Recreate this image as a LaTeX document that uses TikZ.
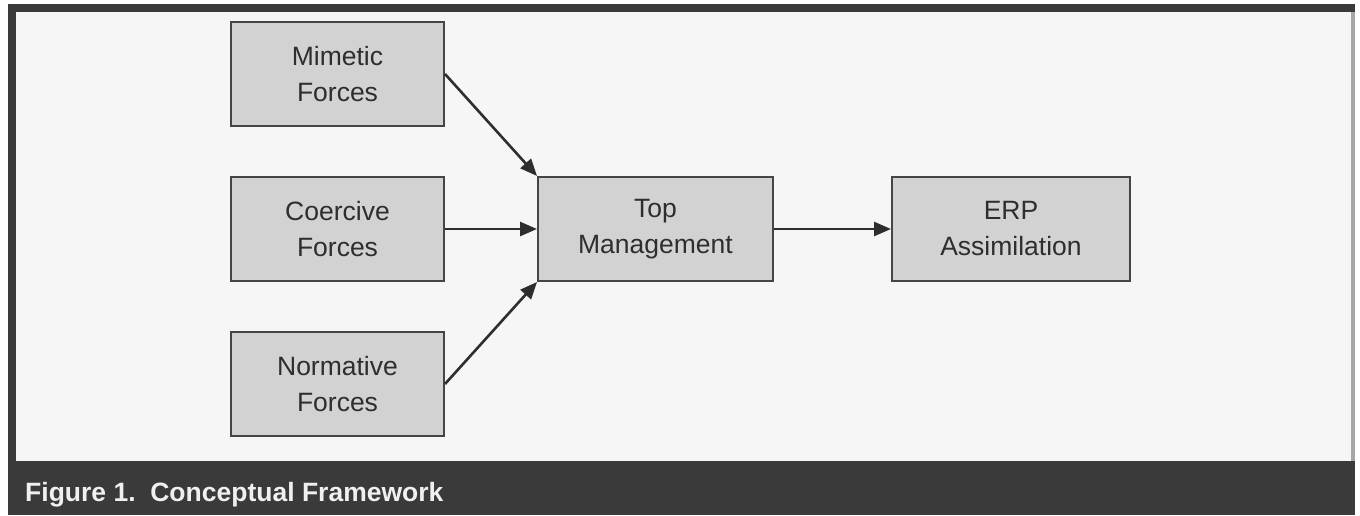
\documentclass[tikz,border=0pt]{standalone}
\usepackage{fontspec}
\setmainfont{Liberation Sans}
\usetikzlibrary{arrows.meta}
\definecolor{framedark}{HTML}{3A3A3A}
\definecolor{innerbg}{HTML}{F6F6F6}
\definecolor{boxfill}{HTML}{D2D2D2}
\definecolor{boxline}{HTML}{454545}
\definecolor{txt}{HTML}{2E2E2E}
\definecolor{captxt}{HTML}{F0F0F0}
\tikzset{
  px/.style={x=1pt,y=-1pt},
  concept/.style={draw=boxline, line width=2pt, fill=boxfill, text=txt,
    minimum height=104pt, align=center,
    font=\fontsize{26.5}{36}\selectfont, inner sep=0pt},
  link/.style={draw=txt, line width=2.6pt, -{Triangle[length=17pt,width=14pt]}}
}
\begin{document}
\begin{tikzpicture}[px]
\useasboundingbox (0,0) rectangle (1360,515);
\fill[white] (0,0) rectangle (1360,515);
\fill[framedark] (8,4) rectangle (1355,515);
\fill[gray!70] (1351,12) rectangle (1355,461);
\fill[innerbg] (16,12) rectangle (1351,461);
\node[anchor=base west, text=captxt, font=\fontsize{26.5}{30}\selectfont\bfseries, inner sep=0pt] (cap) at (25,501) {Figure 1.\ \ Conceptual Framework};
\node[concept, minimum width=213pt] (mim) at (337.5,74) {Mimetic\\Forces};
\node[concept, minimum width=213pt] (coe) at (337.5,229) {Coercive\\Forces};
\node[concept, minimum width=213pt] (nor) at (337.5,384) {Normative\\Forces};
\node[concept, minimum width=235pt] (top) at (655.5,229) {Top\\Management};
\node[concept, minimum width=238pt] (erp) at (1011,229) {ERP\\Assimilation};
\draw[link] (mim.east) -- (top.north west);
\draw[link] (coe.east) -- (top.west);
\draw[link] (nor.east) -- (top.south west);
\draw[link] (top.east) -- (erp.west);
\end{tikzpicture}
\end{document}
